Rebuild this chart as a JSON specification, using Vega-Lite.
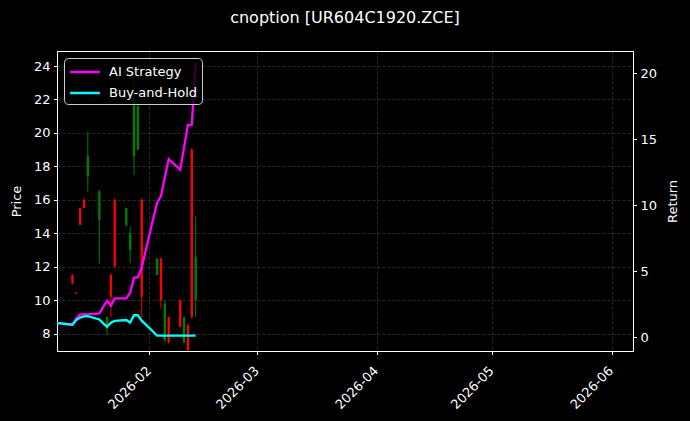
{
  "$schema": "https://vega.github.io/schema/vega-lite/v6.json",
  "width": 576,
  "height": 300,
  "autosize": {"type": "none"},
  "padding": {"left": 57, "top": 51, "right": 57, "bottom": 70},
  "background": "black",
  "title": {"text": "cnoption [UR604C1920.ZCE]", "color": "white", "font": "DejaVu Sans", "fontSize": 16, "fontWeight": "normal", "offset": 25, "anchor": "middle"},
  "config": {
    "view": {"stroke": "white", "strokeWidth": 1},
    "axis": {"domainColor": "white", "tickColor": "white", "labelColor": "white", "titleColor": "white", "labelFont": "DejaVu Sans", "titleFont": "DejaVu Sans", "labelFontSize": 13, "titleFontSize": 13, "titleFontWeight": "normal", "tickSize": 3.5, "labelPadding": 3.5, "labelOverlap": false, "gridColor": "#777777", "gridOpacity": 0.6, "gridDash": [3, 2], "gridWidth": 0.6},
    "legend": {"orient": "top-left", "offset": 7, "fillColor": "rgba(0,0,0,0.8)", "strokeColor": "#cccccc", "cornerRadius": 4, "padding": 4, "labelColor": "white", "labelFont": "DejaVu Sans", "labelFontSize": 13, "symbolType": "M-1.75,0H1.75", "symbolStrokeWidth": 2.5, "symbolSize": 289, "symbolOffset": 7, "labelOffset": 14, "rowPadding": 4}
  },
  "datasets": {
    "candles": [
      {"date": "2026-01-12", "open": 11.5, "high": 11.55, "low": 10.95, "close": 11.0},
      {"date": "2026-01-13", "open": 10.45, "high": 10.5, "low": 10.35, "close": 10.4},
      {"date": "2026-01-14", "open": 15.5, "high": 15.5, "low": 14.5, "close": 14.5},
      {"date": "2026-01-15", "open": 16.0, "high": 16.1, "low": 15.5, "close": 15.5},
      {"date": "2026-01-16", "open": 17.4, "high": 20.1, "low": 16.5, "close": 18.6},
      {"date": "2026-01-19", "open": 14.8, "high": 16.6, "low": 12.2, "close": 16.5},
      {"date": "2026-01-21", "open": 8.3, "high": 9.0, "low": 7.9, "close": 9.0},
      {"date": "2026-01-22", "open": 11.5, "high": 11.6, "low": 9.0, "close": 10.2},
      {"date": "2026-01-23", "open": 16.0, "high": 16.1, "low": 12.0, "close": 12.0},
      {"date": "2026-01-26", "open": 14.5, "high": 15.5, "low": 14.4, "close": 15.5},
      {"date": "2026-01-27", "open": 13.0, "high": 14.4, "low": 12.2, "close": 14.0},
      {"date": "2026-01-28", "open": 18.6, "high": 23.3, "low": 17.5, "close": 22.2},
      {"date": "2026-01-29", "open": 19.0, "high": 21.8, "low": 19.0, "close": 21.6},
      {"date": "2026-01-30", "open": 16.0, "high": 16.1, "low": 9.0, "close": 10.2},
      {"date": "2026-02-03", "open": 11.5, "high": 12.5, "low": 11.5, "close": 12.5},
      {"date": "2026-02-04", "open": 12.5, "high": 12.5, "low": 9.5, "close": 10.0},
      {"date": "2026-02-05", "open": 7.6, "high": 10.0, "low": 7.5, "close": 9.8},
      {"date": "2026-02-06", "open": 9.0, "high": 9.0, "low": 7.4, "close": 7.5},
      {"date": "2026-02-09", "open": 10.0, "high": 10.0, "low": 8.4, "close": 8.4},
      {"date": "2026-02-10", "open": 7.5, "high": 9.0, "low": 7.4, "close": 9.0},
      {"date": "2026-02-11", "open": 8.5, "high": 8.6, "low": 6.9, "close": 7.0},
      {"date": "2026-02-12", "open": 19.0, "high": 19.1, "low": 8.9, "close": 9.0},
      {"date": "2026-02-13", "open": 10.0, "high": 15.0, "low": 9.0, "close": 12.6}
    ],
    "returns": [
      {"date": "2026-01-08", "series": "AI Strategy", "value": 1.06},
      {"date": "2026-01-09", "series": "AI Strategy", "value": 1.05},
      {"date": "2026-01-12", "series": "AI Strategy", "value": 0.95},
      {"date": "2026-01-13", "series": "AI Strategy", "value": 1.45},
      {"date": "2026-01-14", "series": "AI Strategy", "value": 1.74},
      {"date": "2026-01-15", "series": "AI Strategy", "value": 1.74},
      {"date": "2026-01-16", "series": "AI Strategy", "value": 1.74},
      {"date": "2026-01-19", "series": "AI Strategy", "value": 1.8},
      {"date": "2026-01-20", "series": "AI Strategy", "value": 2.3},
      {"date": "2026-01-21", "series": "AI Strategy", "value": 2.75},
      {"date": "2026-01-22", "series": "AI Strategy", "value": 2.4},
      {"date": "2026-01-23", "series": "AI Strategy", "value": 2.95},
      {"date": "2026-01-26", "series": "AI Strategy", "value": 2.95},
      {"date": "2026-01-27", "series": "AI Strategy", "value": 3.38},
      {"date": "2026-01-28", "series": "AI Strategy", "value": 4.5},
      {"date": "2026-01-29", "series": "AI Strategy", "value": 4.55},
      {"date": "2026-01-30", "series": "AI Strategy", "value": 5.28},
      {"date": "2026-02-02", "series": "AI Strategy", "value": 9.0},
      {"date": "2026-02-03", "series": "AI Strategy", "value": 10.2},
      {"date": "2026-02-04", "series": "AI Strategy", "value": 10.7},
      {"date": "2026-02-05", "series": "AI Strategy", "value": 12.1},
      {"date": "2026-02-06", "series": "AI Strategy", "value": 13.5},
      {"date": "2026-02-09", "series": "AI Strategy", "value": 12.7},
      {"date": "2026-02-10", "series": "AI Strategy", "value": 14.4},
      {"date": "2026-02-11", "series": "AI Strategy", "value": 16.1},
      {"date": "2026-02-12", "series": "AI Strategy", "value": 16.1},
      {"date": "2026-02-13", "series": "AI Strategy", "value": 20.8},
      {"date": "2026-01-08", "series": "Buy-and-Hold", "value": 1.06},
      {"date": "2026-01-09", "series": "Buy-and-Hold", "value": 1.05},
      {"date": "2026-01-12", "series": "Buy-and-Hold", "value": 0.95},
      {"date": "2026-01-13", "series": "Buy-and-Hold", "value": 1.3},
      {"date": "2026-01-14", "series": "Buy-and-Hold", "value": 1.49},
      {"date": "2026-01-15", "series": "Buy-and-Hold", "value": 1.58},
      {"date": "2026-01-16", "series": "Buy-and-Hold", "value": 1.6},
      {"date": "2026-01-19", "series": "Buy-and-Hold", "value": 1.35},
      {"date": "2026-01-20", "series": "Buy-and-Hold", "value": 1.05},
      {"date": "2026-01-21", "series": "Buy-and-Hold", "value": 0.8},
      {"date": "2026-01-22", "series": "Buy-and-Hold", "value": 1.1},
      {"date": "2026-01-23", "series": "Buy-and-Hold", "value": 1.24},
      {"date": "2026-01-26", "series": "Buy-and-Hold", "value": 1.31},
      {"date": "2026-01-27", "series": "Buy-and-Hold", "value": 1.12},
      {"date": "2026-01-28", "series": "Buy-and-Hold", "value": 1.67},
      {"date": "2026-01-29", "series": "Buy-and-Hold", "value": 1.67},
      {"date": "2026-01-30", "series": "Buy-and-Hold", "value": 1.26},
      {"date": "2026-02-02", "series": "Buy-and-Hold", "value": 0.42},
      {"date": "2026-02-03", "series": "Buy-and-Hold", "value": 0.12},
      {"date": "2026-02-04", "series": "Buy-and-Hold", "value": 0.12},
      {"date": "2026-02-05", "series": "Buy-and-Hold", "value": 0.12},
      {"date": "2026-02-06", "series": "Buy-and-Hold", "value": 0.12},
      {"date": "2026-02-09", "series": "Buy-and-Hold", "value": 0.12},
      {"date": "2026-02-10", "series": "Buy-and-Hold", "value": 0.12},
      {"date": "2026-02-11", "series": "Buy-and-Hold", "value": 0.12},
      {"date": "2026-02-12", "series": "Buy-and-Hold", "value": 0.12},
      {"date": "2026-02-13", "series": "Buy-and-Hold", "value": 0.12}
    ]
  },
  "encoding": {
    "x": {
      "field": "date", "type": "temporal",
      "scale": {"type": "utc", "domain": ["2026-01-08T00:00:00Z", "2026-06-06T14:00:00Z"], "nice": false},
      "axis": {"title": null, "labelExpr": "utcFormat(datum.value, '%Y-%m')", "tickCount": {"interval": "month", "step": 1}, "labelAngle": -45, "labelAlign": "right", "labelBaseline": "top", "labelPadding": 9.5, "labelOffset": -5, "grid": true}
    }
  },
  "layer": [
    {
      "data": {"name": "candles"},
      "layer": [
        {
          "mark": {"type": "rule", "strokeWidth": 1, "clip": true},
          "encoding": {
            "y": {"field": "low", "type": "quantitative", "scale": {"domain": [6.96, 24.9], "nice": false, "zero": false}, "axis": {"title": "Price", "values": [8, 10, 12, 14, 16, 18, 20, 22, 24], "labelOverlap": false, "grid": true, "titleX": -41, "titleY": 150, "titleAngle": 270, "titleAlign": "center", "titleBaseline": "middle"}},
            "y2": {"field": "high"},
            "color": {"condition": {"test": "datum.close >= datum.open", "value": "#008000"}, "value": "#ff0000"}
          }
        },
        {
          "mark": {"type": "rule", "strokeWidth": 2.3, "clip": true},
          "encoding": {
            "y": {"field": "open", "type": "quantitative", "axis": {"title": "Price", "values": [8, 10, 12, 14, 16, 18, 20, 22, 24], "labelOverlap": false, "grid": true, "titleX": -41, "titleY": 150, "titleAngle": 270, "titleAlign": "center", "titleBaseline": "middle"}},
            "y2": {"field": "close"},
            "color": {"condition": {"test": "datum.close >= datum.open", "value": "#008000"}, "value": "#ff0000"}
          }
        }
      ]
    },
    {
      "data": {"name": "returns"},
      "mark": {"type": "line", "strokeWidth": 2.3, "clip": true},
      "encoding": {
        "y": {"field": "value", "type": "quantitative", "scale": {"domain": [-1.04, 21.69], "nice": false, "zero": false}, "axis": {"orient": "right", "title": "Return", "values": [0, 5, 10, 15, 20], "grid": false, "titleX": 39.5, "titleY": 150, "titleAngle": 270, "titleAlign": "center", "titleBaseline": "middle"}},
        "color": {"field": "series", "type": "nominal", "scale": {"domain": ["AI Strategy", "Buy-and-Hold"], "range": ["#ff00ff", "#00ffff"]}, "legend": {"title": null}}
      }
    }
  ],
  "resolve": {"scale": {"y": "independent"}}
}
